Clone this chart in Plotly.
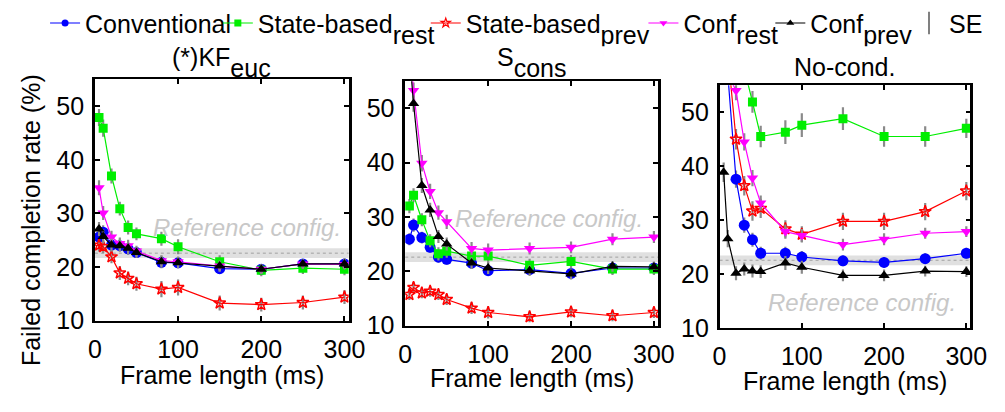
import plotly.graph_objects as go

W, H = 1005, 412
FONT = "Liberation Sans, Arial, sans-serif"
FS = 25

# Frame lengths (ms) shared by every panel
frame_ms = [5, 10, 20, 30, 40, 50, 80, 100, 150, 200, 250, 300]

# Failed completion rate (%) -- (*)KF_euc panel
kf_conventional = [25.6, 26.5, 24.1, 24.0, 23.4, 22.7, 20.9, 20.8, 19.7, 19.6, 20.6, 20.6]
kf_state_rest = [47.9, 45.9, 37.0, 30.9, 27.4, 26.2, 25.3, 23.8, 21.0, 19.4, 19.8, 19.6]
kf_state_prev = [24.1, 23.8, 21.9, 18.9, 17.9, 16.9, 15.9, 16.2, 13.3, 13.0, 13.4, 14.4]
kf_conf_rest = [34.8, 30.1, 25.6, 24.4, 24.0, 23.0, 21.2, 21.0, 20.2, 19.6, 20.6, 20.5]
kf_conf_prev = [27.1, 25.7, 24.1, 24.0, 23.5, 22.7, 21.0, 20.8, 20.2, 19.6, 20.6, 20.6]

kf_conventional_se = [1.2, 1.3, 1.2, 1.1, 1.1, 1.0, 1.1, 1.0, 1.0, 0.9, 0.9, 1.0]
kf_state_rest_se = [1.6, 1.6, 1.4, 1.3, 1.3, 1.2, 1.3, 1.4, 1.2, 1.1, 1.1, 1.1]
kf_state_prev_se = [1.2, 1.2, 1.2, 1.3, 1.3, 1.3, 1.5, 1.5, 1.4, 1.3, 1.3, 1.3]
kf_conf_rest_se = [1.4, 1.3, 1.2, 1.1, 1.1, 1.0, 1.0, 1.0, 1.0, 0.9, 0.9, 0.9]
kf_conf_prev_se = [1.3, 1.3, 1.2, 1.1, 1.1, 1.0, 1.1, 1.0, 1.0, 0.9, 0.9, 1.0]

# S_cons panel
scons_conventional = [25.9, 28.5, 26.2, 24.4, 22.6, 22.2, 21.5, 20.1, 20.3, 19.6, 20.6, 20.6]
scons_state_rest = [32.0, 34.0, 29.5, 25.6, 23.2, 23.7, 22.8, 22.8, 21.1, 21.8, 20.4, 20.4]
scons_state_prev = [15.7, 17.0, 16.0, 16.3, 15.7, 14.8, 13.2, 12.4, 11.6, 12.5, 11.8, 12.4]
scons_conf_rest = [62.0, 53.3, 39.9, 34.7, 30.8, 29.1, 24.2, 23.9, 24.2, 24.4, 25.9, 26.3]
scons_conf_prev = [60.0, 50.9, 35.8, 31.3, 26.4, 25.0, 21.5, 20.6, 20.1, 19.5, 20.9, 20.8]

scons_conventional_se = [1.1, 1.2, 1.1, 1.0, 1.0, 1.0, 1.1, 1.0, 1.0, 1.0, 1.0, 1.0]
scons_state_rest_se = [1.3, 1.3, 1.2, 1.2, 1.2, 1.2, 1.3, 1.3, 1.2, 1.2, 1.1, 1.1]
scons_state_prev_se = [1.0, 1.0, 1.0, 1.0, 1.0, 1.0, 1.1, 1.1, 1.0, 1.0, 1.0, 1.0]
scons_conf_rest_se = [1.6, 1.5, 1.5, 1.4, 1.3, 1.3, 1.2, 1.2, 1.1, 1.1, 1.1, 1.1]
scons_conf_prev_se = [1.6, 1.5, 1.4, 1.3, 1.2, 1.2, 1.1, 1.1, 1.0, 1.0, 1.0, 1.0]

# No-cond. panel
nocond_conventional = [65.0, 57.0, 37.6, 29.1, 26.4, 23.9, 23.9, 23.2, 22.5, 22.2, 22.9, 23.9]
nocond_state_rest = [75.0, 70.0, 63.0, 58.0, 51.9, 45.5, 46.3, 47.6, 48.8, 45.5, 45.5, 47.0]
nocond_state_prev = [66.0, 61.0, 45.0, 36.4, 31.7, 32.2, 28.4, 27.4, 29.8, 29.8, 31.6, 35.4]
nocond_conf_rest = [65.0, 57.0, 54.0, 44.5, 37.8, 33.2, 27.9, 27.2, 25.5, 26.5, 27.6, 27.9]
nocond_conf_prev = [38.9, 26.6, 20.2, 21.0, 20.6, 20.5, 22.1, 21.3, 19.8, 19.8, 20.6, 20.5]

nocond_conventional_se = [1.8, 1.7, 1.6, 1.4, 1.3, 1.2, 1.2, 1.1, 1.0, 1.0, 1.0, 1.0]
nocond_state_rest_se = [2.2, 2.2, 2.2, 2.1, 2.0, 2.0, 2.2, 2.2, 2.1, 1.9, 1.9, 1.8]
nocond_state_prev_se = [2.0, 2.0, 1.9, 1.8, 1.8, 1.8, 1.6, 1.5, 1.6, 1.6, 1.6, 1.7]
nocond_conf_rest_se = [2.0, 1.9, 1.8, 1.6, 1.5, 1.4, 1.3, 1.2, 1.1, 1.1, 1.0, 1.0]
nocond_conf_prev_se = [1.8, 1.6, 1.3, 1.2, 1.2, 1.2, 1.3, 1.2, 1.1, 1.1, 1.0, 1.0]

# Reference configuration: mean failed completion rate and its SE
ref_mean = 22.6
ref_se = 0.9

x_ticks = [0, 100, 200, 300]
y_ticks = [10, 20, 30, 40, 50]


def sub(base, s):
    # full-size subscript, pushed down by nesting <sub> tags
    return (f"{base}<sub><sub><sub><span style='font-size:{FS}px'>{s}</span>"
            "</sub></sub></sub>")


panel_titles = [sub("(*)KF", "euc"), sub("S", "cons"), "No-cond."]
series_names = ["Conventional", sub("State-based", "rest"), sub("State-based", "prev"),
                sub("Conf", "rest"), sub("Conf", "prev")]
series_style = [
    dict(color="#0000ff", symbol="circle", size=11),
    dict(color="#00ee00", symbol="square", size=9),
    dict(color="#ff0000", symbol="star-open", size=9),
    dict(color="#ff00ff", symbol="triangle-down", size=10),
    dict(color="#000000", symbol="triangle-up", size=10),
]

panels = [
    ([kf_conventional, kf_state_rest, kf_state_prev, kf_conf_rest, kf_conf_prev],
     [kf_conventional_se, kf_state_rest_se, kf_state_prev_se, kf_conf_rest_se, kf_conf_prev_se]),
    ([scons_conventional, scons_state_rest, scons_state_prev, scons_conf_rest, scons_conf_prev],
     [scons_conventional_se, scons_state_rest_se, scons_state_prev_se, scons_conf_rest_se, scons_conf_prev_se]),
    ([nocond_conventional, nocond_state_rest, nocond_state_prev, nocond_conf_rest, nocond_conf_prev],
     [nocond_conventional_se, nocond_state_rest_se, nocond_state_prev_se, nocond_conf_rest_se, nocond_conf_prev_se]),
]

# pixel boxes of the three axes: (left, right, top, bottom)
boxes = [(90, 350, 78, 331), (408, 667, 80, 336), (730, 987, 84, 339)]


def px_x(p):
    return p / W


def px_y(p):
    return 1 - p / H


legend_ids = ["legend", "legend2", "legend3", "legend4", "legend5", "legend6"]
# left edge (px) of each legend box
legend_left = [39, 216, 429, 652, 782]

fig = go.Figure()

for pi, (vals, ses) in enumerate(panels):
    xa = "x" if pi == 0 else f"x{pi + 1}"
    ya = "y" if pi == 0 else f"y{pi + 1}"
    for si in range(5):
        st = series_style[si]
        fig.add_trace(go.Scatter(
            x=frame_ms, y=vals[si], xaxis=xa, yaxis=ya,
            mode="lines+markers", showlegend=False,
            line=dict(color=st["color"], width=1.2),
            marker=dict(color=st["color"], symbol=st["symbol"], size=st["size"],
                        line=dict(color=st["color"], width=1.5 if "open" in st["symbol"] else 0)),
            error_y=dict(type="data", array=ses[si], color="#8a8a8a", thickness=2.2, width=0),
        ))

# legend entries (drawn without the error bars)
for si in range(5):
    st = series_style[si]
    fig.add_trace(go.Scatter(
        x=[None], y=[None], mode="lines+markers", name=series_names[si],
        legend=legend_ids[si],
        line=dict(color=st["color"], width=1.2),
        marker=dict(color=st["color"], symbol=st["symbol"], size=7,
                    line=dict(color=st["color"], width=1.2 if "open" in st["symbol"] else 0)),
    ))
fig.add_trace(go.Scatter(
    x=[None], y=[None], mode="markers", name="SE", legend="legend6",
    marker=dict(symbol="line-ns-open", size=16, color="#808080",
                line=dict(color="#808080", width=2)),
))

layout = dict(
    width=W, height=H, margin=dict(l=0, r=0, t=0, b=0),
    paper_bgcolor="white", plot_bgcolor="white",
    font=dict(family=FONT, size=FS, color="black"),
    shapes=[], annotations=[],
)

for pi, (l, r, t, b) in enumerate(boxes):
    sx = "" if pi == 0 else str(pi + 1)
    layout[f"xaxis{sx}"] = dict(
        domain=[px_x(l), px_x(r)], range=[0, 305], anchor=f"y{sx}",
        tickvals=x_ticks, ticks="inside", ticklen=5, tickwidth=1.5, tickcolor="black",
        showline=True, linecolor="black", linewidth=2, mirror="ticks",
        showgrid=False, zeroline=False, tickfont=dict(size=FS), ticklabelstandoff=5,
    )
    layout[f"yaxis{sx}"] = dict(
        domain=[px_y(b), px_y(t)], range=[10, 55], anchor=f"x{sx}",
        tickvals=y_ticks, ticks="inside", ticklen=5, tickwidth=1.5, tickcolor="black",
        showline=True, linecolor="black", linewidth=2.5, mirror="ticks",
        showgrid=False, zeroline=False, tickfont=dict(size=FS), ticklabelstandoff=3,
    )
    xr = "x" + sx
    yr = "y" + sx
    layout["shapes"].append(dict(
        type="rect", xref=f"{xr} domain", yref=yr, x0=0, x1=1,
        y0=ref_mean - ref_se, y1=ref_mean + ref_se,
        fillcolor="#e0e0e0", line=dict(width=0), layer="below"))
    layout["shapes"].append(dict(
        type="line", xref=f"{xr} domain", yref=yr, x0=0, x1=1,
        y0=ref_mean, y1=ref_mean, line=dict(color="#a0a0a0", width=1, dash="dot"),
        layer="below"))
    # panel title
    layout["annotations"].append(dict(
        text=panel_titles[pi], xref="paper", yref="paper",
        x=px_x((l + r) / 2), y=px_y(60 if pi < 2 else 65), xanchor="center", yanchor="middle",
        showarrow=False, font=dict(size=FS)))
    # x-axis title
    layout["annotations"].append(dict(
        text="Frame length (ms)", xref="paper", yref="paper",
        x=px_x((l + r) / 2), y=px_y(388 + 3 * pi), xanchor="center", yanchor="middle",
        showarrow=False, font=dict(size=FS)))

# "Reference config." labels
ref_label_pos = [(67, 27.3), (58, 29.8), (57, 14.8)]
for pi, (rx, ry) in enumerate(ref_label_pos):
    sx = "" if pi == 0 else str(pi + 1)
    layout["annotations"].append(dict(
        text="<i>Reference config.</i>", xref="x" + sx, yref="y" + sx,
        x=rx, y=ry, xanchor="left", yanchor="middle", showarrow=False,
        font=dict(family="Liberation Sans, Arial, sans-serif", size=24, color="#c8c8c8")))

# y-axis title
layout["annotations"].append(dict(
    text="Failed completion rate (%)", xref="paper", yref="paper",
    x=px_x(24), y=px_y(225), xanchor="center", yanchor="middle",
    textangle=-90, showarrow=False, font=dict(size=FS)))

# one legend box per entry so each sits at its own position
leg_y = 1 + 5 / H
for i, lx in enumerate(legend_left):
    layout[legend_ids[i]] = dict(
        x=px_x(lx), y=leg_y, xanchor="left", yanchor="top",
        orientation="h", bgcolor="rgba(0,0,0,0)", borderwidth=0,
        font=dict(family=FONT, size=FS), itemwidth=30,
    )
layout["legend6"] = dict(
    x=1.0, y=leg_y, xanchor="right", yanchor="top",
    orientation="h", bgcolor="rgba(0,0,0,0)", borderwidth=0,
    font=dict(family=FONT, size=FS), itemwidth=30,
)

fig.update_layout(**layout)
fig.write_html("out.html")
